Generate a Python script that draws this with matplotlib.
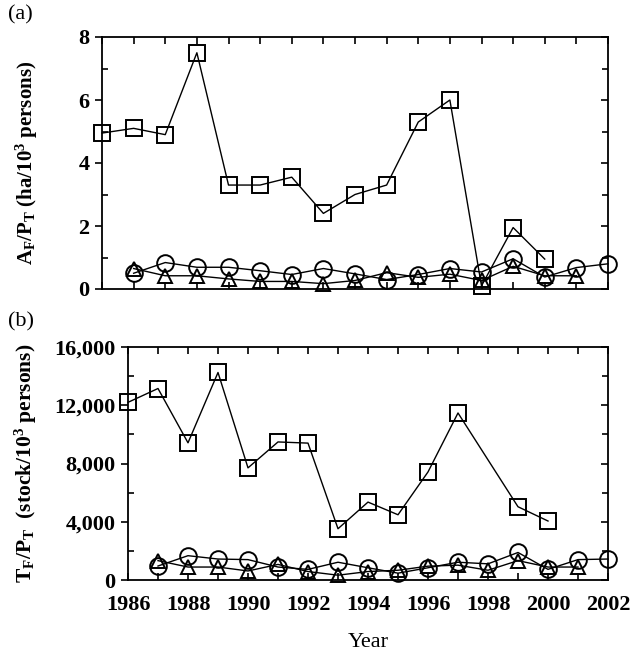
import matplotlib
matplotlib.use("Agg")
import matplotlib.pyplot as plt
from matplotlib.ticker import MultipleLocator, FuncFormatter

plt.rcParams['font.family'] = ['Liberation Serif', 'DejaVu Serif']
plt.rcParams['font.weight'] = 'bold'
plt.rcParams['mathtext.fontset'] = 'custom'
plt.rcParams['mathtext.rm'] = 'Liberation Serif:bold'
plt.rcParams['mathtext.bf'] = 'Liberation Serif:bold'
plt.rcParams['mathtext.it'] = 'Liberation Serif:italic:bold'
plt.rcParams['mathtext.default'] = 'bf'

# ---- data (a): A_F / P_T ----
years_sq_a = [1986, 1987, 1988, 1989, 1990, 1991, 1992, 1993, 1994, 1995, 1996, 1997, 1998, 1999, 2000]
sq_a = [4.95, 5.1, 4.9, 7.5, 3.3, 3.3, 3.55, 2.4, 3.0, 3.3, 5.3, 6.0, 0.1, 1.95, 0.95]
years_ci_a = [1987, 1988, 1989, 1990, 1991, 1992, 1993, 1994, 1995, 1996, 1997, 1998, 1999, 2000, 2001, 2002]
ci_a = [0.5, 0.84, 0.69, 0.69, 0.58, 0.46, 0.65, 0.48, 0.3, 0.46, 0.65, 0.54, 0.96, 0.38, 0.68, 0.8]
years_tr_a = [1987, 1988, 1989, 1990, 1991, 1992, 1993, 1994, 1995, 1996, 1997, 1998, 1999, 2000, 2001]
tr_a = [0.65, 0.42, 0.42, 0.32, 0.24, 0.24, 0.17, 0.27, 0.52, 0.37, 0.47, 0.27, 0.72, 0.42, 0.42]

# ---- data (b): T_F / P_T ----
years_sq_b = [1986, 1987, 1988, 1989, 1990, 1991, 1992, 1993, 1994, 1995, 1996, 1997, 1999, 2000]
sq_b = [12200, 13150, 9420, 14250, 7700, 9480, 9400, 3520, 5350, 4480, 7420, 11470, 5030, 4050]
years_ci_b = [1987, 1988, 1989, 1990, 1991, 1992, 1993, 1994, 1995, 1996, 1997, 1998, 1999, 2000, 2001, 2002]
ci_b = [960, 1670, 1440, 1400, 890, 730, 1220, 840, 470, 840, 1220, 1110, 1890, 730, 1400, 1440]
years_tr_b = [1987, 1988, 1989, 1990, 1991, 1992, 1993, 1994, 1995, 1996, 1997, 1998, 1999, 2000, 2001]
tr_b = [1330, 890, 890, 620, 1070, 580, 330, 580, 670, 950, 1020, 670, 1330, 890, 890]

W, H = 641, 657
fig = plt.figure(figsize=(W / 100, H / 100), dpi=100)

def box(l, t, r, b):
    return [l / W, 1 - b / H, (r - l) / W, (b - t) / H]

ax1 = fig.add_axes(box(102, 37, 608, 289))
ax2 = fig.add_axes(box(128, 347, 608, 580))

mk = dict(color='black', markerfacecolor='none', markeredgecolor='black',
          linewidth=1.0, markeredgewidth=1.4, clip_on=False, zorder=3)

for ax, (ys, s), (yc, c), (yt, t) in [
        (ax1, (years_sq_a, sq_a), (years_ci_a, ci_a), (years_tr_a, tr_a)),
        (ax2, (years_sq_b, sq_b), (years_ci_b, ci_b), (years_tr_b, tr_b))]:
    ax.plot(ys, s, marker='s', markersize=11, **mk)
    ax.plot(yc, c, marker='o', markersize=12, **mk)
    ax.plot(yt, t, marker='^', markersize=10, **mk)
    ax.set_xlim(1986, 2002)
    ax.xaxis.set_major_locator(MultipleLocator(2))
    ax.xaxis.set_minor_locator(MultipleLocator(1))
    ax.tick_params(which='both', direction='in', top=True, right=True, width=1.2)
    ax.tick_params(which='major', length=5)
    ax.tick_params(which='minor', length=4)
    ax.tick_params(axis='x', which='minor', length=5)
    ax.tick_params(axis='y', which='major', left=True, direction='out', length=5)
    ax.tick_params(axis='y', which='major', right=True)
    ax.tick_params(labelsize=16)
    for sp in ax.spines.values():
        sp.set_linewidth(1.3)

ax1.set_ylim(0, 8)
ax1.yaxis.set_major_locator(MultipleLocator(2))
ax1.yaxis.set_minor_locator(MultipleLocator(1))
ax1.set_xticklabels([])
ax1.tick_params(axis='y', pad=4)
ax1.set_ylabel('A$_F$/P$_T$ (ha/10$^3$ persons)', fontsize=15, fontweight='bold')
ax1.yaxis.set_label_coords((40 - 102) / 506, 0.5)

ax2.set_ylim(0, 16000)
ax2.yaxis.set_major_locator(MultipleLocator(4000))
ax2.yaxis.set_minor_locator(MultipleLocator(2000))
ax2.yaxis.set_major_formatter(FuncFormatter(lambda v, p: f'{int(v):,}'))
ax2.tick_params(axis='y', pad=4)
ax2.tick_params(axis='x', pad=11)
ax2.set_ylabel('T$_F$/P$_T$  (stock/10$^3$ persons)', fontsize=15.5, fontweight='bold')
ax2.yaxis.set_label_coords((39 - 128) / 480, 0.5)
ax2.set_xlabel('Year', fontsize=16, fontweight='normal', labelpad=13)

fig.text(8 / W, 1 - 15 / H, '(a)', fontsize=16, fontweight='normal', va='center', ha='left')
fig.text(8 / W, 1 - 322 / H, '(b)', fontsize=16, fontweight='normal', va='center', ha='left')

# right-side major ticks point inward
fig.canvas.draw()
for ax in (ax1, ax2):
    for tk in ax.yaxis.get_major_ticks():
        tk.tick2line.set_marker(matplotlib.lines.TICKLEFT)

fig.savefig('out.png', dpi=100)
